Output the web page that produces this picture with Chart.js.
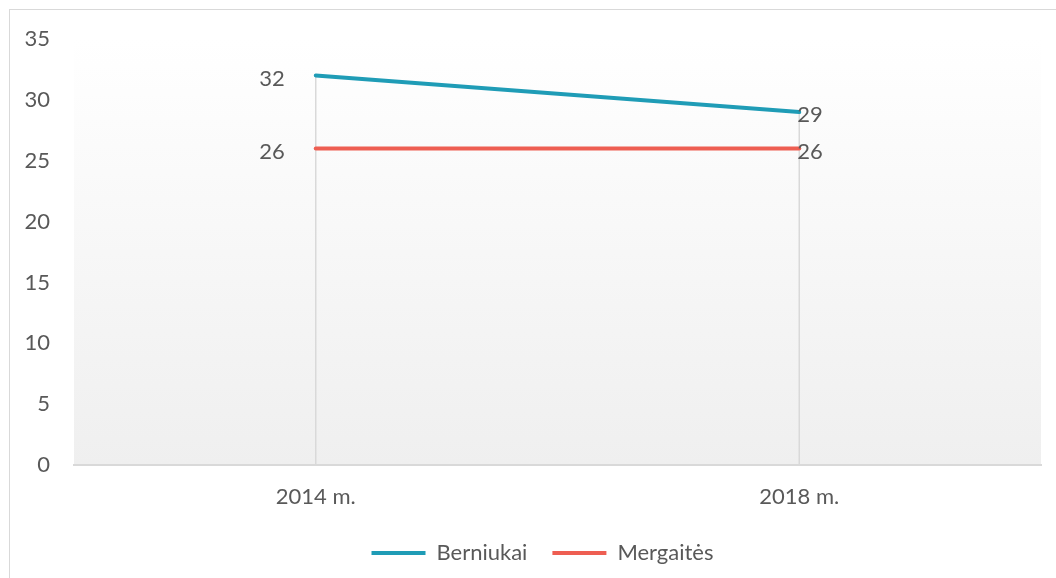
<!DOCTYPE html>
<html>
<head>
<meta charset="utf-8">
<script src="https://cdn.jsdelivr.net/npm/chart.js@4"></script>
<style>
  body { margin: 0; background: #fff; }
  #frame { position: absolute; left: 9px; top: 9px; width: 1100px; height: 600px; border: 1px solid #d9d9d9; }
  #wrap { position: absolute; left: 0; top: 0; width: 1056px; height: 578px; }
</style>
</head>
<body>
<div id="frame"></div>
<div id="wrap"><canvas id="myChart"></canvas></div>
<script>
// values
const years = ["2014 m.", "2018 m."];
const boys = [32, 29];
const girls = [26, 26];
const yTicks = [0, 5, 10, 15, 20, 25, 30, 35];

const textColor = "#595959";
const fontFamily = "Lato, 'Open Sans', sans-serif";
const fontSize = 22;

// soft grey fade behind the plot
const plotBg = {
    id: 'plotBg',
    beforeDraw(chart) {
        const { ctx, chartArea: a } = chart;
        const g = ctx.createLinearGradient(0, a.top, 0, a.bottom);
        g.addColorStop(0, "#ffffff");
        g.addColorStop(1, "#efefef");
        ctx.save();
        ctx.fillStyle = g;
        ctx.fillRect(a.left, a.top, a.right - a.left, a.bottom - a.top);
        ctx.restore();
    }
};

// legend sits a bit right of centre in the original
const legendShift = {
    id: 'legendShift',
    afterLayout(chart) {
        if (chart.legend) {
            chart.legend.left += 22;
            chart.legend.right += 22;
        }
    }
};

// drop lines from the highest point of each year down to the axis
const dropLines = {
    id: 'dropLines',
    beforeDatasetsDraw(chart) {
        const ctx = chart.ctx;
        const bottom = chart.chartArea.bottom;
        ctx.save();
        ctx.strokeStyle = "#d9d9d9";
        ctx.lineWidth = 1.5;
        chart.data.labels.forEach((lbl, j) => {
            let x = 0, top = bottom;
            chart.data.datasets.forEach((ds, i) => {
                const pt = chart.getDatasetMeta(i).data[j];
                x = pt.x;
                top = Math.min(top, pt.y);
            });
            ctx.beginPath();
            ctx.moveTo(x, top);
            ctx.lineTo(x, bottom);
            ctx.stroke();
        });
        ctx.restore();
    }
};

// value labels: first point to the left, last point just at it
const valueLabels = {
    id: 'valueLabels',
    afterDatasetsDraw(chart) {
        const ctx = chart.ctx;
        ctx.save();
        ctx.font = fontSize + "px " + fontFamily;
        ctx.fillStyle = textColor;
        ctx.textBaseline = "middle";
        chart.data.datasets.forEach((ds, i) => {
            chart.getDatasetMeta(i).data.forEach((pt, j) => {
                if (j === 0) {
                    ctx.textAlign = "right";
                    ctx.fillText(ds.data[j], pt.x - 31, pt.y + 3);
                } else {
                    ctx.textAlign = "left";
                    ctx.fillText(ds.data[j], pt.x - 2, pt.y + 3);
                }
            });
        });
        ctx.restore();
    }
};

const ctx = document.getElementById('myChart');

new Chart(ctx, {
    type: "line",
    data: {
        labels: years,
        datasets: [{
            label: "Berniukai",
            data: boys,
            borderColor: "#1f9cb6",
            backgroundColor: "#1f9cb6",
            borderWidth: 4,
            pointRadius: 0,
            borderCapStyle: "round"
        }, {
            label: "Mergaitės",
            data: girls,
            borderColor: "#ee5e52",
            backgroundColor: "#ee5e52",
            borderWidth: 4,
            pointRadius: 0,
            borderCapStyle: "round"
        }]
    },
    options: {
        responsive: true,
        maintainAspectRatio: false,
        animation: false,
        layout: { padding: { top: 39, right: 15, left: 0, bottom: 4 } },
        scales: {
            x: {
                offset: true,
                afterFit(scale) { scale.height = 52; },
                grid: { display: false, drawTicks: false },
                border: { display: true, color: "#d9d9d9", width: 2 },
                ticks: { color: textColor, font: { size: fontSize, family: fontFamily }, padding: 19 }
            },
            y: {
                min: 0,
                max: 35,
                afterBuildTicks(scale) { scale.ticks = yTicks.map(v => ({ value: v })); },
                afterFit(scale) { scale.width = 74; },
                grid: { display: false, drawTicks: false },
                border: { display: false },
                ticks: { color: textColor, font: { size: fontSize, family: fontFamily }, padding: 24 }
            }
        },
        plugins: {
            legend: {
                display: true,
                position: "bottom",
                labels: {
                    color: textColor,
                    font: { size: fontSize, family: fontFamily },
                    boxWidth: 54,
                    boxHeight: 4,
                    padding: 25,
                    generateLabels(chart) {
                        return chart.data.datasets.map((ds, i) => ({
                            text: ds.label,
                            fillStyle: ds.borderColor,
                            strokeStyle: ds.borderColor,
                            lineWidth: 0,
                            fontColor: textColor,
                            datasetIndex: i
                        }));
                    }
                }
            },
            tooltip: { enabled: false }
        }
    },
    plugins: [plotBg, legendShift, dropLines, valueLabels]
});
</script>
</body>
</html>
